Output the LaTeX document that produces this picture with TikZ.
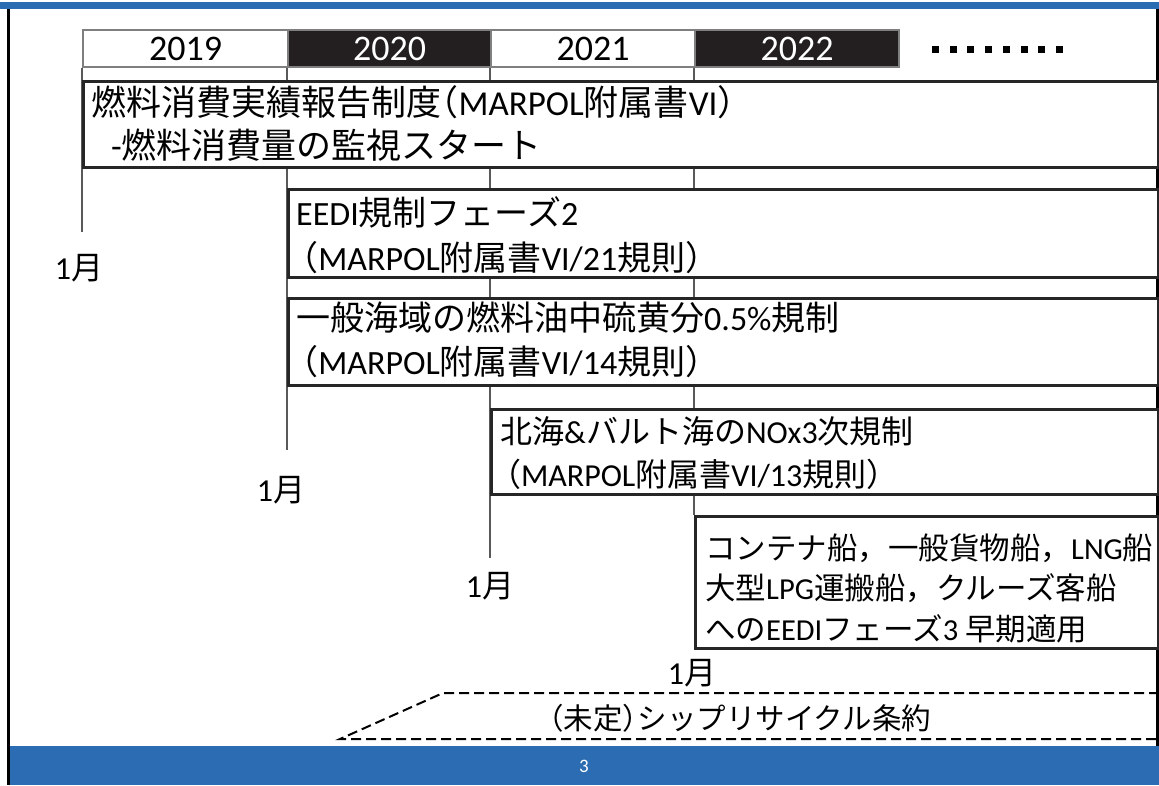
\documentclass[tikz,border=0pt]{standalone}
\usepackage{fontspec}
\setmainfont{Carlito}
\newfontfamily\jpfont{Noto Sans CJK JP}
\newcommand{\J}[1]{{\jpfont #1}}
\newcommand{\LPs}{{\jpfont\kern-0.35em（}}
\newcommand{\LPm}{{\jpfont\kern-0.5em（}}
\newcommand{\RPm}{{\jpfont）\kern-0.5em}}
\definecolor{barblue}{RGB}{43,108,178}
\definecolor{boxline}{RGB}{38,38,38}
\definecolor{tlgray}{RGB}{89,89,89}
\definecolor{hdgray}{RGB}{127,127,127}
\definecolor{hdblack}{RGB}{35,31,32}
\tikzset{
  evbox/.style={draw=boxline, line width=2.5pt, fill=white, anchor=north west, inner sep=0pt},
  yearw/.style={draw=hdgray, line width=2pt, fill=white, anchor=north west, inner sep=0pt,
    minimum height=37pt, text=black, font=\fontsize{36}{38}\selectfont},
  yeark/.style={yearw, fill=hdblack, text=white},
  tl/.style={draw=tlgray, line width=2.5pt},
  txt/.style={anchor=west, align=left, inner sep=0pt, text=black},
  month/.style={inner sep=0pt, text=black, font=\fontsize{32}{36}\selectfont},
  dashbox/.style={draw=black, line width=2pt, dash pattern=on 10pt off 5pt},
  dotsq/.style={fill=black, minimum size=7pt, inner sep=0pt}
}
\begin{document}
\begin{tikzpicture}[x=1pt,y=-1pt]
\useasboundingbox (0,0) rectangle (1159,785);
\fill[white] (0,0) rectangle (1159,785);
% frame
\fill[barblue] (0,1.5) rectangle (1159,9);
\fill[barblue] (10,746) rectangle (1159,785);
\draw[black, line width=3pt] (8.5,9) -- (8.5,785);
\draw[black, line width=3pt] (1157,9) -- (1157,746);
\node[text=white, inner sep=0pt, font=\fontsize{19}{21}\selectfont] (pg) at (584,766) {3};
% header
\node[yearw, minimum width=205pt] (y19) at (82,29) {2019};
\node[yeark, minimum width=203pt] (y20) at (287,29) {2020};
\node[yearw, minimum width=204pt] (y21) at (490,29) {2021};
\node[yeark, minimum width=204pt] (y22) at (694,29) {2022};
\foreach \i in {0,...,7} {
  \node[dotsq] (dot\i) at ({935.5+\i*17.7},49) {};
}
% timeline end points
\coordinate (e1) at (82,232);
\coordinate (e2) at (287,450);
\coordinate (e3) at (490,558);
\path (694,515) coordinate (b5tl);
\draw[tl] (y19.south west) -- (e1);
\draw[tl] (y20.south west) -- (e2);
\draw[tl] (y21.south west) -- (e3);
\draw[tl] (y22.south west) -- (b5tl);
\node[evbox, minimum width=1075pt, minimum height=86pt] (b1) at (82,80) {};
\node[evbox, minimum width=870pt, minimum height=88pt] (b2) at (287,188) {};
\node[evbox, minimum width=870pt, minimum height=87pt] (b3) at (287,297) {};
\node[evbox, minimum width=667pt, minimum height=85pt] (b4) at (490,408) {};
\node[evbox, minimum width=463pt, minimum height=132pt] (b5) at (694,515) {};
% texts
\node[txt, font=\fontsize{35}{43}\selectfont] (t1) at (91,123.5)
  {\J{燃料消費実績報告制度}\LPm MARPOL\J{附属書}VI\J{）}\\\hspace*{20pt}-\J{燃料消費量の監視スタート}};
\node[txt, font=\fontsize{34}{45}\selectfont] (t2) at (296,235)
  {EEDI\J{規制フェーズ}2\\\LPs MARPOL\J{附属書}VI/21\J{規則）}};
\node[txt, font=\fontsize{34}{44.5}\selectfont] (t3) at (296,340)
  {\J{一般海域の燃料油中硫黄分}0.5\%\J{規制}\\\LPs MARPOL\J{附属書}VI/14\J{規則）}};
\node[txt, font=\fontsize{32}{43}\selectfont] (t4) at (500,453.5)
  {\J{北海}\&\J{バルト海の}NOx3\J{次規制}\\\LPs MARPOL\J{附属書}VI/13\J{規則）}};
\node[txt, font=\fontsize{30.5}{40.5}\selectfont] (t5) at (705,588)
  {\J{コンテナ船，一般貨物船，}LNG\J{船}\\\J{大型}LPG\J{運搬船，クルーズ客船}\\\J{への}EEDI\J{フェーズ}3 \J{早期適用}};
% month labels
\node[month] (m1) at (79,268) {1\J{月}};
\node[month] (m2) at (281,490) {1\J{月}};
\node[month] (m3) at (490,586) {1\J{月}};
\node[month] (m4) at (692,673) {1\J{月}};
% undecided convention
\coordinate (d1) at (1159,693);
\coordinate (d2) at (443,693);
\coordinate (d3) at (340,739);
\coordinate (d4) at (1159,739);
\draw[dashbox] (d1) -- (d2) -- (d3) -- (d4);
\node[inner sep=0pt, text=black, font=\fontsize{29.5}{32}\selectfont] (u) at (740,718)
  {\LPm\J{未定}\RPm\J{シップリサイクル条約}};
\end{tikzpicture}
\end{document}
